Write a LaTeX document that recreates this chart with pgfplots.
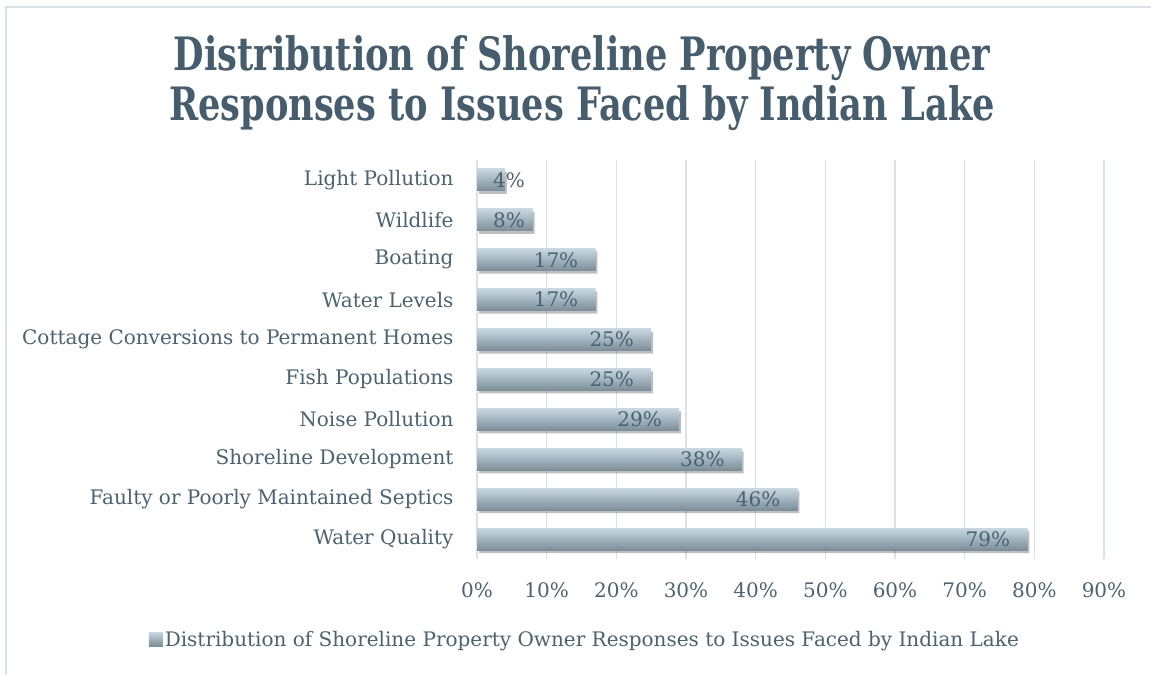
\documentclass[border=0pt]{standalone}
\usepackage{fontspec}
\setmainfont{DejaVu Serif}
\newfontfamily\titlefont{DejaVu Serif Condensed}[FakeStretch=0.85]
\usepackage{pgfplots}
\pgfplotsset{compat=1.18}
\definecolor{txt}{RGB}{75,98,113}
\definecolor{ttl}{RGB}{70,93,110}
\definecolor{gridc}{RGB}{217,226,232}
\definecolor{bartop}{RGB}{200,216,225}
\definecolor{barbot}{RGB}{122,142,153}
\pgfplotsset{
  mybar/.style={xbar, bar width=22pt, bar shift=0pt, draw=none,
    top color=bartop, bottom color=barbot,
    nodes near coords={\pgfmathprintnumber{\pgfplotspointmeta}\%},
    point meta=x,
    nodes near coords style={font=\fontsize{20}{23}\selectfont, text=txt, anchor=east, xshift=-17pt, inner sep=0pt}},
}
\begin{document}
\begin{tikzpicture}[x=1pt,y=1pt]
\useasboundingbox (0,0) rectangle (1151,675);
\draw[gridc, line width=2pt] (6,0) -- (6,668) -- (1151,668);
\node[font=\titlefont\bfseries\fontsize{46}{50}\selectfont, text=ttl, align=center] at (582,617) {Distribution of Shoreline Property Owner};
\node[font=\titlefont\bfseries\fontsize{46}{50}\selectfont, text=ttl, align=center] at (582,567) {Responses to Issues Faced by Indian Lake};
\begin{axis}[
  at={(477pt,116pt)}, anchor=south west,
  width=627pt, height=399pt, scale only axis,
  xmin=0, xmax=90, ymin=-0.5, ymax=9.5,
  axis line style={draw=none},
  major tick length=0pt,
  xtick={0,10,...,90},
  xticklabel={\pgfmathprintnumber{\tick}\%},
  ytick={0,...,9},
  yticklabels={Water Quality,Faulty or Poorly Maintained Septics,Shoreline Development,Noise Pollution,Fish Populations,Cottage Conversions to Permanent Homes,Water Levels,Boating,Wildlife,Light Pollution},
  xmajorgrids, grid style={gridc, line width=1.5pt},
  tick label style={font=\fontsize{20}{23}\selectfont, text=txt},
  /pgf/number format/assume math mode=true,
  y tick label style={xshift=-20pt},
  x tick label style={yshift=-20pt},
  legend style={at={(0.172,-0.203)}, anchor=center, draw=none, fill=none, font=\fontsize{20}{23}\selectfont, text=txt},
  legend image code/.code={\shade[top color=bartop, bottom color=barbot] (0pt,-6pt) rectangle (14pt,8pt);},
  clip=false,
]
\addplot[xbar, bar width=22pt, bar shift=-3pt, draw=none, fill=black, opacity=0.25, xshift=2pt, forget plot]
 coordinates {(79,0) (46,1) (38,2) (29,3) (25,4) (25,5) (17,6) (17,7) (8,8) (4,9)};
\addplot[mybar] coordinates {(79,0)};
\addlegendentry{Distribution of Shoreline Property Owner Responses to Issues Faced by Indian Lake}
\addplot[mybar, forget plot] coordinates {(46,1)};
\addplot[mybar, forget plot] coordinates {(38,2)};
\addplot[mybar, forget plot] coordinates {(29,3)};
\addplot[mybar, forget plot] coordinates {(25,4)};
\addplot[mybar, forget plot] coordinates {(25,5)};
\addplot[mybar, forget plot] coordinates {(17,6)};
\addplot[mybar, forget plot] coordinates {(17,7)};
\addplot[mybar, forget plot, nodes near coords style={anchor=west, xshift=-22.7pt}] coordinates {(8,8)};
\addplot[mybar, forget plot, nodes near coords style={anchor=west, xshift=5.1pt}] coordinates {(4,9)};
\end{axis}
\end{tikzpicture}
\end{document}
